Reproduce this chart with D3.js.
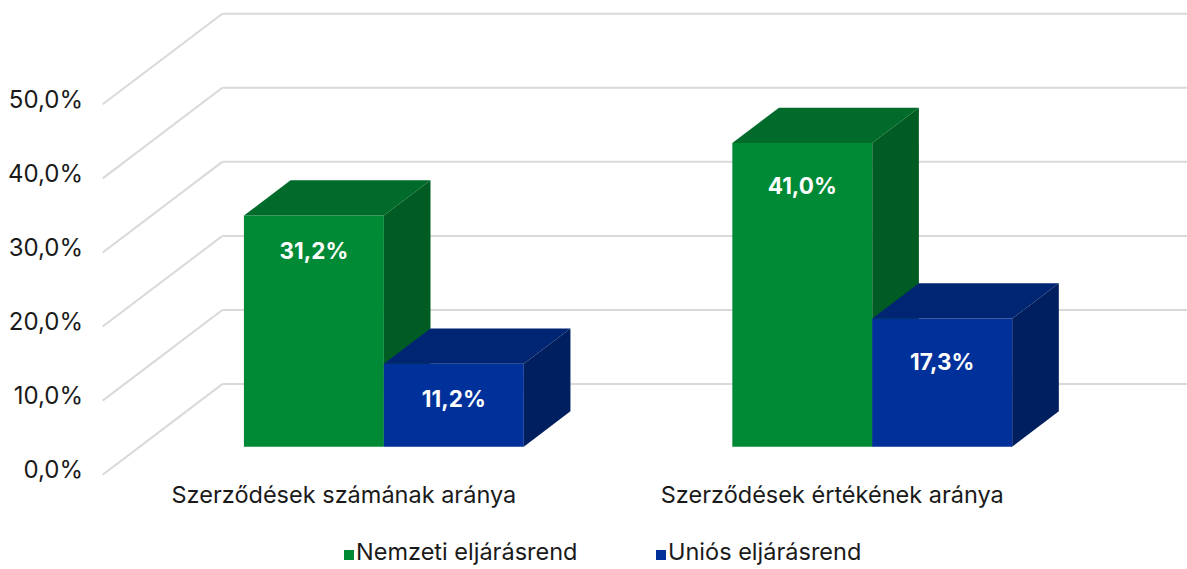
<!DOCTYPE html>
<html>
<head>
<meta charset="utf-8">
<script src="https://cdn.jsdelivr.net/npm/d3@7"></script>
<style>
  html, body { margin: 0; padding: 0; background: #ffffff; }
  svg { display: block; font-family: Inter, "Noto Sans", sans-serif; }
</style>
</head>
<body>
<svg id="chart" width="1187" height="569"></svg>
<script>
// ---- data ----
const categories = ["Szerződések számának aránya", "Szerződések értékének aránya"];
const seriesNames = ["Nemzeti eljárásrend", "Uniós eljárásrend"];
const nemzetiValues = [31.2, 41.0];
const uniosValues = [11.2, 17.3];
const yTicks = [0, 10, 20, 30, 40, 50];
const yTickLabels = ["0,0%", "10,0%", "20,0%", "30,0%", "40,0%", "50,0%"];
const dataLabels = [["31,2%", "41,0%"], ["11,2%", "17,3%"]];

// ---- styles ----
const faceColors = [
  { front: "#008A36", top: "#006B2A", side: "#005C23" },
  { front: "#00319A", top: "#002573", side: "#001F5E" }
];
const legendColors = ["#008A36", "#00319A"];
const labelOffsets = [37, 45]; // per category, label distance below bar top

const svg = d3.select("#chart");
const W = 1187, H = 569;

// oblique depth vector (front plane -> back wall)
const DX = 119.6, DY = -90.6;
const d0 = 0.309, d1 = 0.699; // bar depth extent as fraction of total depth

const y = d3.scaleLinear().domain([0, 50]).range([474.7, 104.3]);
const x = d3.scaleBand().domain(categories).range([102.7, 1079.5]).padding(0);
const xs = d3.scaleBand().domain(seriesNames).range([0, x.bandwidth()]).paddingInner(0).paddingOuter(0.745);

const grid = svg.append("g");
const gridColor = "#D9D9D9";
yTicks.forEach(t => {
  const fy = y(t);
  grid.append("line")
    .attr("x1", 102.7).attr("y1", fy)
    .attr("x2", 102.7 + DX).attr("y2", fy + DY)
    .attr("stroke", gridColor).attr("stroke-width", 2);
  grid.append("line")
    .attr("x1", 102.7 + DX).attr("y1", fy + DY)
    .attr("x2", W + 20).attr("y2", fy + DY)
    .attr("stroke", gridColor).attr("stroke-width", 2);
});

// y axis labels
svg.append("g").selectAll("text").data(yTicks).join("text")
  .attr("x", 83)
  .attr("y", t => y(t) - 3)
  .attr("text-anchor", "end")
  .attr("dominant-baseline", "middle")
  .attr("font-size", 24)
  .attr("fill", "#1a1a1a")
  .text((t, i) => yTickLabels[i]);

// bars
const seriesValues = [nemzetiValues, uniosValues];
const bars = svg.append("g");
categories.forEach((cat, ci) => {
  seriesNames.forEach((s, si) => {
    const v = seriesValues[si][ci];
    const fx0 = x(cat) + xs(s) + d0 * DX;
    const fx1 = fx0 + xs.bandwidth();
    const fyb = y(0) + d0 * DY;
    const fyt = y(v) + d0 * DY;
    const ddx = (d1 - d0) * DX, ddy = (d1 - d0) * DY;
    const c = faceColors[si];
    const pts = a => a.map(p => p.join(",")).join(" ");
    // front
    bars.append("polygon")
      .attr("points", pts([[fx0, fyt], [fx1, fyt], [fx1, fyb], [fx0, fyb]]))
      .attr("fill", c.front);
    // top
    bars.append("polygon")
      .attr("points", pts([[fx0, fyt], [fx0 + ddx, fyt + ddy], [fx1 + ddx, fyt + ddy], [fx1, fyt]]))
      .attr("fill", c.top);
    // side
    bars.append("polygon")
      .attr("points", pts([[fx1, fyt], [fx1 + ddx, fyt + ddy], [fx1 + ddx, fyb + ddy], [fx1, fyb]]))
      .attr("fill", c.side);
    // data label
    bars.append("text")
      .attr("x", (fx0 + fx1) / 2)
      .attr("y", fyt + labelOffsets[ci])
      .attr("text-anchor", "middle")
      .attr("dominant-baseline", "middle")
      .attr("font-size", 22.5)
      .attr("font-weight", "bold")
      .attr("fill", "#ffffff")
      .text(dataLabels[si][ci]);
  });
});

// category labels
svg.append("g").selectAll("text").data(categories).join("text")
  .attr("x", d => x(d) + x.bandwidth() / 2 - 3)
  .attr("y", 497)
  .attr("text-anchor", "middle")
  .attr("dominant-baseline", "middle")
  .attr("font-size", 23.5)
  .attr("fill", "#1a1a1a")
  .text(d => d);

// legend
const legendX = [344, 656];
const lg = svg.append("g");
seriesNames.forEach((s, i) => {
  lg.append("rect").attr("x", legendX[i]).attr("y", 550).attr("width", 10).attr("height", 10)
    .attr("fill", legendColors[i]);
  lg.append("text").attr("x", legendX[i] + 12).attr("y", 554)
    .attr("dominant-baseline", "middle")
    .attr("font-size", 23.5).attr("fill", "#1a1a1a")
    .text(s);
});
</script>
</body>
</html>
